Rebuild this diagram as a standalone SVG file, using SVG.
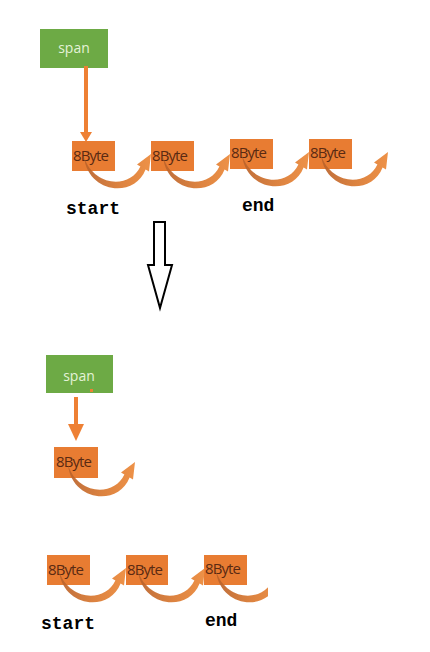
<svg xmlns="http://www.w3.org/2000/svg" width="430" height="652" viewBox="0 0 430 652">
<style>
.span{fill:#6DAA45}
.spant{font-family:"Open Sans","Liberation Sans",sans-serif;font-size:14px;fill:#E4F2D8;text-anchor:middle}
.box{fill:#E87C32}
.bt{font-family:"Open Sans","Liberation Sans",sans-serif;font-size:15px;fill:#5A2A12;letter-spacing:-0.9px}
.lbl{font-family:"Liberation Mono",monospace;font-size:18px;font-weight:bold;fill:#000}
.curve{fill:url(#cg);opacity:0.92}
.ptr{fill:#EE8034;stroke:none}
</style>
<defs>
<linearGradient id="cg" x1="0" y1="0" x2="1" y2="0">
<stop offset="0" stop-color="#B8612A"/>
<stop offset="0.5" stop-color="#D8772F"/>
<stop offset="1" stop-color="#EC8838"/>
</linearGradient>
<path id="arc" d="M 12,16 C 16,52 62,58 73.6,28.5 L 77,30.5 L 79,13 L 65,23.5 L 68.4,25.5 C 58,48 22,46 12,16 Z"/>
</defs>

<!-- top section -->
<g id="span-top">
<rect class="span" x="40" y="29" width="68" height="39"/>
<text class="spant" x="74" y="53">span</text>
</g>
<g id="top-b1">
<rect class="box" x="72" y="141" width="43" height="30"/>
<text class="bt" x="73" y="161">8Byte</text>
</g>
<g id="top-b2">
<rect class="box" x="151" y="141" width="43" height="30"/>
<text class="bt" x="152" y="161">8Byte</text>
</g>
<g id="top-b3">
<rect class="box" x="230" y="139" width="43" height="30"/>
<text class="bt" x="231" y="158">8Byte</text>
</g>
<g id="top-b4">
<rect class="box" x="309" y="139" width="43" height="30"/>
<text class="bt" x="310" y="158">8Byte</text>
</g>
<g id="top-labels">
<text class="lbl" x="66" y="214">start</text>
<text class="lbl" x="242" y="211">end</text>
</g>

<!-- transition arrow -->
<g id="down-arrow">
<path d="M 154,222 L 165,222 L 165,265 L 172,265 L 160,308 L 148,265 L 154,265 Z" fill="#fff" stroke="#000" stroke-width="2" stroke-linejoin="miter"/>
</g>

<!-- bottom section -->
<g id="span-bottom">
<rect class="span" x="46" y="355" width="67" height="38"/>
<text class="spant" x="79" y="381">span</text>
<rect x="90" y="389" width="3" height="3" fill="#EE8034"/>
</g>
<g id="mid-b">
<rect class="box" x="54" y="447" width="44" height="31"/>
<text class="bt" x="56" y="467">8Byte</text>
</g>
<g id="bot-b1">
<rect class="box" x="47" y="555" width="43" height="30"/>
<text class="bt" x="48" y="575">8Byte</text>
</g>
<g id="bot-b2">
<rect class="box" x="126" y="555" width="42" height="30"/>
<text class="bt" x="127" y="575">8Byte</text>
</g>
<g id="bot-b3">
<rect class="box" x="204" y="555" width="43" height="30"/>
<text class="bt" x="205" y="574">8Byte</text>
</g>
<g id="bot-labels">
<text class="lbl" x="41" y="629">start</text>
<text class="lbl" x="205" y="626">end</text>
</g>

<g id="connectors">
<rect class="ptr" x="84" y="66" width="4" height="68"/>
<path class="ptr" d="M 80,132 L 92,132 L 86,142 Z"/>
<use href="#arc" class="curve" transform="translate(72,141)"/>
<use href="#arc" class="curve" transform="translate(151,141)"/>
<use href="#arc" class="curve" transform="translate(230,139)"/>
<use href="#arc" class="curve" transform="translate(309,139)"/>
<rect class="ptr" x="74" y="397" width="4" height="29"/>
<path class="ptr" d="M 68,424 L 84,424 L 76,441 Z"/>
<use href="#arc" class="curve" transform="translate(56,449)"/>
<use href="#arc" class="curve" transform="translate(47,555)"/>
<use href="#arc" class="curve" transform="translate(126,555)"/>
<svg x="204" y="555" width="64" height="60" overflow="hidden"><use href="#arc" class="curve"/></svg>
</g>
</svg>
